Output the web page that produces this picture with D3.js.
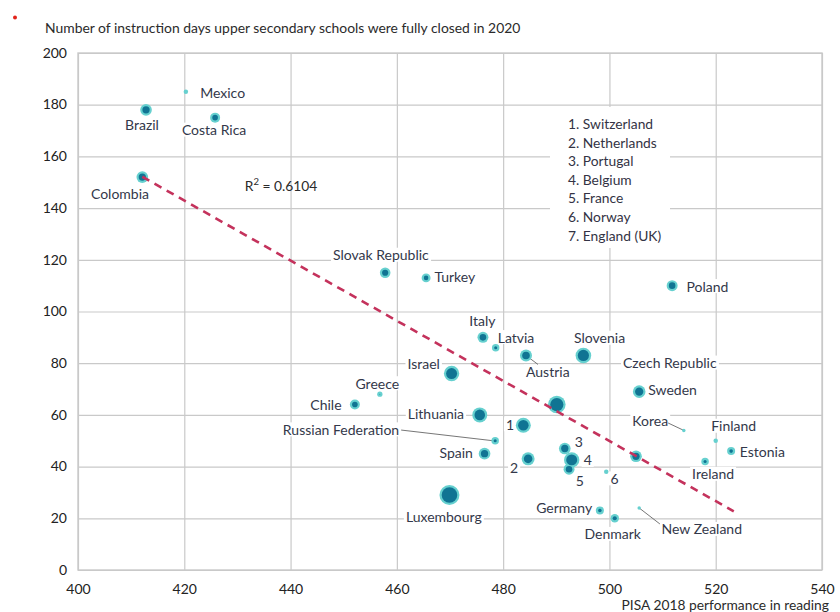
<!DOCTYPE html>
<html><head><meta charset="utf-8">
<script src="https://cdn.jsdelivr.net/npm/d3@7"></script>
<style>
html,body{margin:0;padding:0;background:#fff;}
svg text{font-family:Lato,"Open Sans",sans-serif;}
</style></head>
<body>
<svg id="chart" width="840" height="612"></svg>
<script>
// ---------- data ----------
const countries = ["Mexico","Brazil","Costa Rica","Colombia","Slovak Republic","Turkey","Poland","Italy","Latvia","Austria","Slovenia","Israel","Greece","Chile","Czech Republic","Sweden","Lithuania","Switzerland","Korea","Russian Federation","Finland","Spain","Portugal","Estonia","England (UK)","Netherlands","Belgium","Ireland","France","Norway","Luxembourg","Germany","New Zealand","Denmark"];
const reading = [420.3,412.8,425.8,412.1,457.8,465.5,511.8,476.2,478.6,484.3,495.1,470.3,456.8,452.1,490.1,505.6,475.6,483.8,514.0,478.5,520.0,476.5,491.6,522.9,505.0,484.7,492.9,518.0,492.4,499.4,469.9,498.2,505.6,501.0];
const daysClosed = [185,178,175,152,115,113,110,90,86,83,83,76,68,64,64,69,60,56,54,50,50,45,47,46,44,43,42.6,42,39,38,29,23,24,20];
const weight = [5,34,25,34,28,20,30,30,14,36,61,59,7,25,77,40,56,56,3,14,5,34,34,16,34,42,59,14,30,5,100,16,3,18];
const pointLabels = ["Mexico","Brazil","Costa Rica","Colombia","Slovak Republic","Turkey","Poland","Italy","Latvia","Austria","Slovenia","Israel","Greece","Chile","Czech Republic","Sweden","Lithuania","1","Korea","Russian Federation","Finland","Spain","3","Estonia","","2","4","Ireland","5","6","Luxembourg","Germany","New Zealand","Denmark"];
const keyItems = ["1. Switzerland","2. Netherlands","3. Portugal","4. Belgium","5. France","6. Norway","7. England (UK)"];
const xTicks = [400,420,440,460,480,500,520,540];
const yTicks = [0,20,40,60,80,100,120,140,160,180,200];
const trend = {intercept:631.4, slope:-1.163, xStart:412.1, xEnd:523.4, r2:"0.6104"};
const yTitle = "Number of instruction days upper secondary schools were fully closed in 2020";
const xTitle = "PISA 2018 performance in reading";

// ---------- label layout (px offsets from point) ----------
const layout = {
  "Mexico":{dx:14.3,dy:0.6,a:"start"},
  "Brazil":{dx:-4,dy:14.6,a:"middle"},
  "Costa Rica":{dx:-1,dy:12,a:"middle"},
  "Colombia":{dx:-22.3,dy:16,a:"middle"},
  "Slovak Republic":{dx:-4.3,dy:-18,a:"middle"},
  "Turkey":{dx:8.3,dy:-1.7,a:"start"},
  "Poland":{dx:14.4,dy:0.4,a:"start"},
  "Italy":{dx:-0.5,dy:-17,a:"middle"},
  "Latvia":{dx:2,dy:-10.6,a:"start"},
  "Austria":{dx:0,dy:16,a:"start",leader:[0,0,12,9]},
  "Slovenia":{dx:16.2,dy:-17.7,a:"middle"},
  "Israel":{dx:-11.7,dy:-10,a:"end"},
  "Greece":{dx:-2.5,dy:-11,a:"middle"},
  "Chile":{dx:-13.3,dy:0,a:"end"},
  "Czech Republic":{dx:113,dy:-42,a:"middle"},
  "Sweden":{dx:9,dy:-2.4,a:"start"},
  "Lithuania":{dx:-15.7,dy:-1.6,a:"end"},
  "Switzerland":{dx:-13.3,dy:-1,a:"middle"},
  "Korea":{dx:-15.7,dy:-9.7,a:"end",leader:[-15.7,-7.4,0,0]},
  "Russian Federation":{dx:-96,dy:-11.4,a:"end",leader:[-94,-10.7,-2,0]},
  "Finland":{dx:18,dy:-15,a:"middle"},
  "Spain":{dx:-11.6,dy:-1,a:"end"},
  "Portugal":{dx:14,dy:-7.3,a:"middle"},
  "Estonia":{dx:8.7,dy:0,a:"start"},
  "Netherlands":{dx:-14,dy:8.7,a:"middle"},
  "Belgium":{dx:16,dy:0,a:"middle"},
  "Ireland":{dx:8,dy:12.4,a:"middle"},
  "France":{dx:10.7,dy:11.4,a:"middle"},
  "Norway":{dx:8.3,dy:6.6,a:"middle"},
  "Luxembourg":{dx:-5.6,dy:21,a:"middle"},
  "Germany":{dx:-7.7,dy:-3.3,a:"end"},
  "New Zealand":{dx:22.4,dy:21,a:"start",leader:[0,0,20.7,16]},
  "Denmark":{dx:-2,dy:15.6,a:"middle"}
};

// ---------- drawing ----------
const svg = d3.select("#chart");
const L=78, R=822, T=53, B=570;
const x = d3.scaleLinear().domain([400,540]).range([L,R]);
const y = d3.scaleLinear().domain([0,200]).range([B,T]);
const rScale = d3.scaleSqrt().domain([0,100]).range([0,10]);
const gridColor = "#c9c9c9";
const labelSize = 14;

// title & red dot
svg.append("circle").attr("cx",15).attr("cy",17.5).attr("r",2).attr("fill","#e2231a");
svg.append("text").attr("x",45).attr("y",27.5).attr("dominant-baseline","central")
  .attr("font-size",13.9).attr("fill","#2b2b2b").text(yTitle);

// axes with gridlines
const gy = svg.append("g").attr("transform",`translate(${L},0)`)
  .call(d3.axisLeft(y).tickValues(yTicks).tickSize(-(R-L)).tickPadding(11).tickFormat(d3.format("d")));
gy.select(".domain").remove();
gy.selectAll(".tick line").attr("stroke",gridColor).attr("stroke-width",1.2);
gy.selectAll(".tick text").attr("font-size",14).attr("fill","#222").attr("dy","0.3em")
  .attr("font-family","Lato, sans-serif");

const gx = svg.append("g").attr("transform",`translate(0,${B})`)
  .call(d3.axisBottom(x).tickValues(xTicks).tickSize(-(B-T)).tickPadding(14).tickFormat(d3.format("d")));
gx.select(".domain").remove();
gx.selectAll(".tick line").attr("stroke",gridColor).attr("stroke-width",1.2);
gx.selectAll(".tick text").attr("font-size",14).attr("fill","#222").attr("font-family","Lato, sans-serif");

svg.append("rect").attr("x",L).attr("y",T).attr("width",R-L).attr("height",B-T)
  .attr("fill","none").attr("stroke",gridColor).attr("stroke-width",1.4);

svg.append("text").attr("x",829).attr("y",609.5).attr("text-anchor","end")
  .attr("font-size",13.8).attr("fill","#2b2b2b").text(xTitle);

// key box
const key = svg.append("g");
key.append("rect").attr("x",550).attr("y",107).attr("width",120).attr("height",141).attr("fill","#fff");
key.selectAll("text").data(keyItems).join("text")
  .attr("x",568).attr("y",(d,i)=>123.5+i*18.6).attr("dominant-baseline","central")
  .attr("font-size",13.8).attr("fill","#333344").text(d=>d);

// R² annotation
const r2 = svg.append("text").attr("x",x(431.4)).attr("y",y(148.9)).attr("dominant-baseline","central")
  .attr("font-size",13.8).attr("fill","#2b2b2b");
r2.append("tspan").text("R");
r2.append("tspan").attr("font-size",9.5).attr("dy","-0.45em").text("2");
r2.append("tspan").attr("dy","0.3em").text(" = " + trend.r2);

// point data
const pts = countries.map((c,i)=>({name:c,label:pointLabels[i],px:x(reading[i]),py:y(daysClosed[i]),r:rScale(weight[i])}));

// labels with white background
const lg = svg.append("g");
pts.forEach(p=>{
  const lo = layout[p.name];
  if(!lo || !p.label) return;
  const g = lg.append("g");
  const t = g.append("text").attr("x",p.px+lo.dx).attr("y",p.py+lo.dy)
    .attr("text-anchor",lo.a).attr("dominant-baseline","central")
    .attr("font-size",labelSize).attr("fill","#33384a").text(p.label);
  const bb = t.node().getBBox();
  g.insert("rect","text").attr("x",bb.x-2).attr("y",bb.y+1.5).attr("width",bb.width+4).attr("height",bb.height-3).attr("fill","#fff");
  if(lo.leader){
    lg.append("line").attr("x1",p.px+lo.leader[0]).attr("y1",p.py+lo.leader[1])
      .attr("x2",p.px+lo.leader[2]).attr("y2",p.py+lo.leader[3])
      .attr("stroke","#666").attr("stroke-width",0.9);
  }
});

// bubbles
const bg = svg.append("g");
bg.selectAll("circle.halo").data(pts).join("circle").attr("class","halo")
  .attr("cx",d=>d.px).attr("cy",d=>d.py).attr("r",d=>d.r).attr("fill","#66d0cf");
bg.selectAll("circle.core").data(pts).join("circle").attr("class","core")
  .attr("cx",d=>d.px).attr("cy",d=>d.py).attr("r",d=>Math.max(0,d.r-2.2)).attr("fill","#107493");

// trend line
svg.append("line")
  .attr("x1",x(trend.xStart)).attr("y1",y(trend.intercept+trend.slope*trend.xStart))
  .attr("x2",x(trend.xEnd)).attr("y2",y(trend.intercept+trend.slope*trend.xEnd))
  .attr("stroke","#c4325c").attr("stroke-width",2.6).attr("stroke-dasharray","8,6");
</script>
</body></html>
